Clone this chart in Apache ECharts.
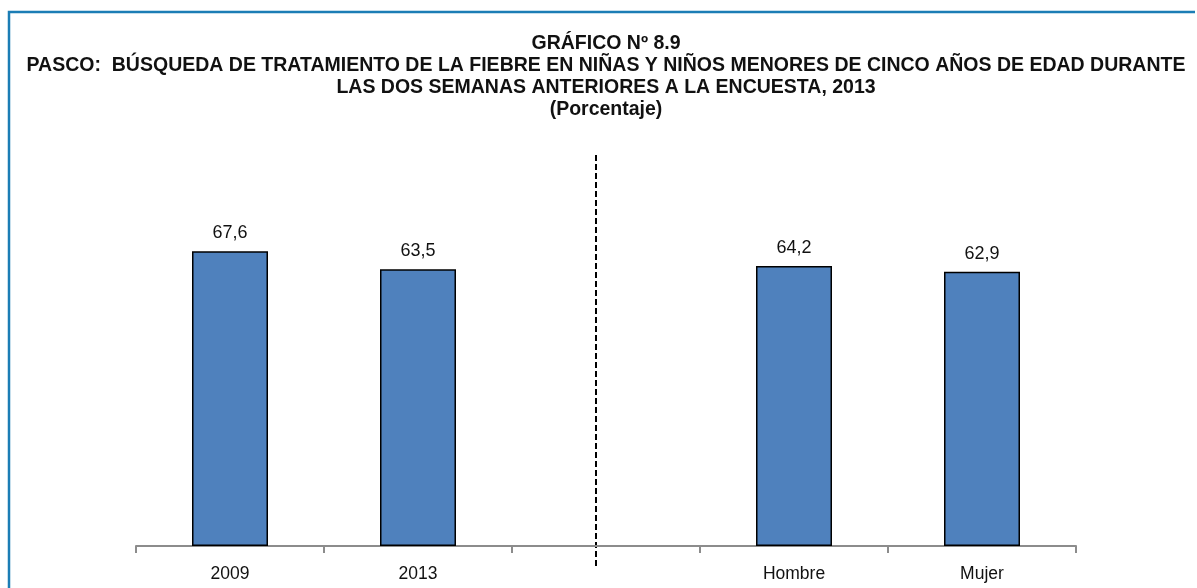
<!DOCTYPE html>
<html>
<head>
<meta charset="utf-8">
<script src="https://cdn.jsdelivr.net/npm/echarts@6/dist/echarts.min.js"></script>
<style>
  html, body { margin: 0; padding: 0; background: #fff; }
  #main { width: 1197px; height: 588px; }
</style>
</head>
<body>
<div id="main"></div>
<script>
// datos del gráfico
const categorias = ['2009', '2013', '', 'Hombre', 'Mujer'];
const valores = [67.6, 63.5, null, 64.2, 62.9];
const titulo = [
  'GRÁFICO Nº 8.9',
  'PASCO:  BÚSQUEDA DE TRATAMIENTO DE LA FIEBRE EN NIÑAS Y NIÑOS MENORES DE CINCO AÑOS DE EDAD DURANTE',
  'LAS DOS SEMANAS ANTERIORES A LA ENCUESTA, 2013',
  '(Porcentaje)'
];

const fuente = '"Liberation Sans", Arial, sans-serif';
const chart = echarts.init(document.getElementById('main'));

const option = {
  backgroundColor: '#ffffff',
  animation: false,
  grid: { left: 136, right: 121, top: 110, bottom: 42 },
  xAxis: {
    type: 'category',
    data: categorias,
    axisLine: { lineStyle: { color: '#8c8c8c', width: 2 } },
    axisTick: { show: true, length: 7, lineStyle: { color: '#8c8c8c', width: 2 } },
    axisLabel: { fontFamily: fuente, fontSize: 17.5, color: '#111', margin: 19 }
  },
  yAxis: {
    type: 'value',
    min: 0,
    max: 100,
    show: false
  },
  series: [{
    type: 'bar',
    barWidth: 76,
    data: valores,
    itemStyle: { color: '#4F81BD', borderColor: '#000', borderWidth: 1.5 },
    label: {
      show: true,
      position: 'top',
      distance: 9,
      fontFamily: fuente,
      fontSize: 18,
      color: '#111',
      formatter: p => p.value.toFixed(1).replace('.', ',')
    }
  }]
};
chart.setOption(option);

// título, línea discontinua separadora y borde
const xSep = chart.convertToPixel({ xAxisIndex: 0 }, 2) - 10;
chart.setOption({
  graphic: [
    {
      type: 'text',
      x: 606,
      y: 33,
      style: {
        text: titulo.join('\n'),
        align: 'center',
        fontFamily: fuente,
        fontWeight: 'bold',
        fontSize: 19.5,
        lineHeight: 22,
        fill: '#111'
      }
    },
    {
      type: 'line',
      shape: { x1: xSep, y1: 155, x2: xSep, y2: 568 },
      style: { stroke: '#000', lineWidth: 2, lineDash: [6, 3] }
    },
    {
      type: 'polyline',
      shape: { points: [[9, 588], [9, 12], [1195, 12]] },
      style: { stroke: '#1B7DB5', lineWidth: 2.5, fill: null }
    }
  ]
});
</script>
</body>
</html>
